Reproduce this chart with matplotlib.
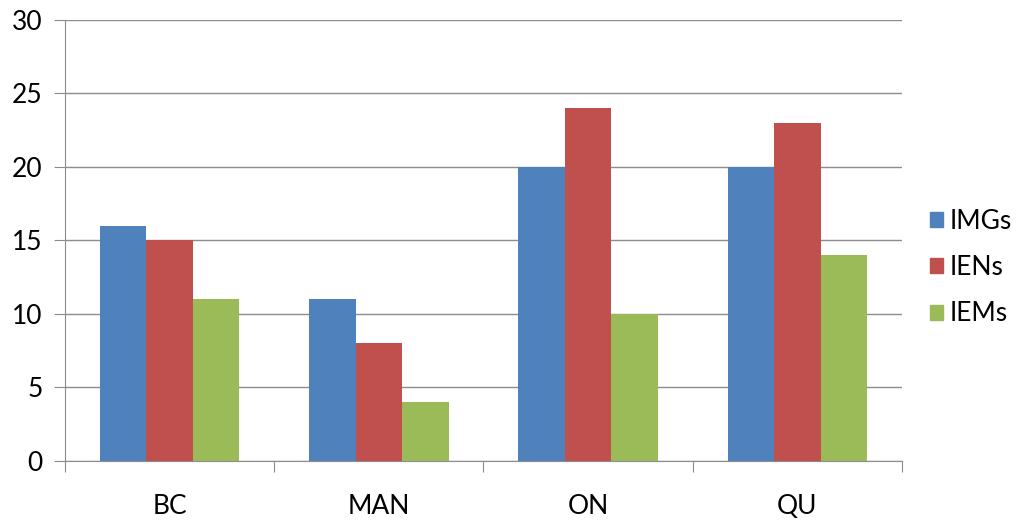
import numpy as np
import matplotlib.pyplot as plt
from matplotlib.patches import Patch

plt.rcParams['font.family'] = ['Lato', 'DejaVu Sans']

regions = ['BC', 'MAN', 'ON', 'QU']
imgs = [16, 11, 20, 20]
iens = [15, 8, 24, 23]
iems = [11, 4, 10, 14]

series = [('IMGs', imgs, '#4F81BD'), ('IENs', iens, '#C0504D'), ('IEMs', iems, '#9BBB59')]

fig = plt.figure(figsize=(10.23, 5.22), dpi=100)
ax = fig.add_axes([0.0635, 0.1169, 0.8182, 0.8448])

x = np.arange(len(regions))
w = 1 / 4.5
for i, (name, vals, col) in enumerate(series):
    ax.bar(x + (i - 1) * w, vals, width=w, color=col, label=name, zorder=3)

grid = '#8c8c8c'
ax.set_ylim(0, 30)
ax.set_xlim(-0.5, len(regions) - 0.5)
ax.set_yticks(range(0, 31, 5))
ax.yaxis.grid(True, color=grid, linewidth=1, zorder=0)
ax.tick_params(axis='y', length=8, color=grid, labelsize=19, pad=8)

# category ticks on the boundaries, labels centred
ax.set_xticks(np.arange(-0.5, len(regions), 1))
ax.set_xticklabels([])
ax.set_xticks(x, minor=True)
ax.set_xticklabels(regions, minor=True)
ax.tick_params(axis='x', which='major', length=8, color=grid)
ax.tick_params(axis='x', which='minor', length=0, labelsize=19, pad=24)

for s in ['top', 'right']:
    ax.spines[s].set_visible(False)
for s in ['left', 'bottom']:
    ax.spines[s].set_color(grid)

handles = [Patch(color=c, label=n) for n, _, c in series]
fig.legend(handles=handles, loc='center left', bbox_to_anchor=(0.909, 0.487),
           frameon=False, fontsize=19, handlelength=0.5, handleheight=0.5,
           handletextpad=0.25, labelspacing=0.8, borderpad=0, borderaxespad=0)

fig.savefig('out.png', dpi=100)
